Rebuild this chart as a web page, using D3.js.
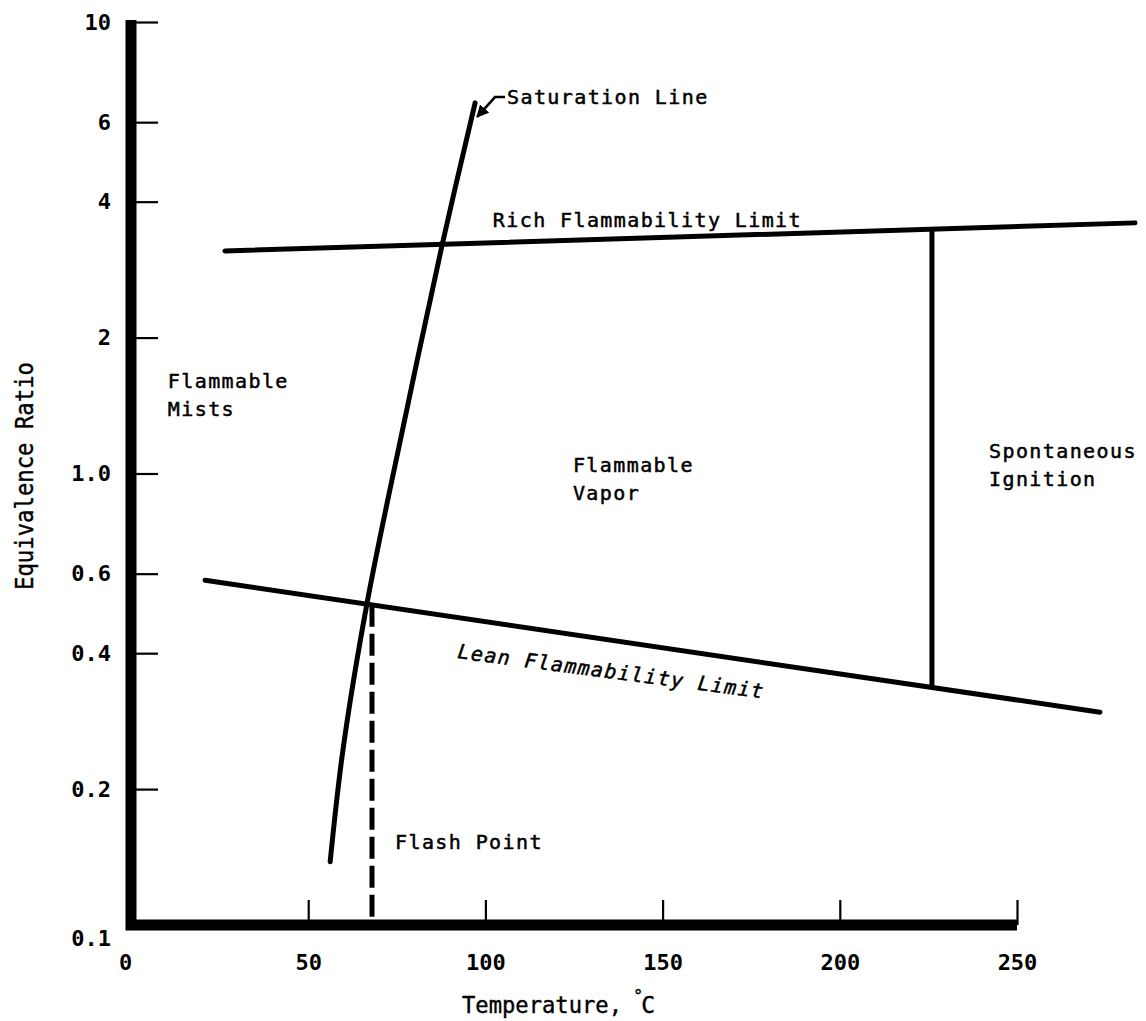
<!DOCTYPE html>
<html>
<head>
<meta charset="utf-8">
<script src="https://cdn.jsdelivr.net/npm/d3@7"></script>
<style>
  body { margin: 0; background: #fff; }
  svg text { font-family: "DejaVu Sans Mono", "Liberation Mono", monospace; fill: #000; }
  .tick text { font-size: 22px; font-weight: bold; }
  .note { font-size: 20px; letter-spacing: 1.4px; stroke: #000; stroke-width: 0.5px; }
  .title { stroke: #000; stroke-width: 0.4px; }
</style>
</head>
<body>
<div id="chart"></div>
<script>
// axis ticks
var xTicks = [0, 50, 100, 150, 200, 250];
var yTicks = [0.1, 0.2, 0.4, 0.6, 1.0, 2, 4, 6, 10];
var yTickLabels = ["0.1", "0.2", "0.4", "0.6", "1.0", "2", "4", "6", "10"];

// curves: [temperature C, equivalence ratio]
var richLimit = [[26.5, 3.11], [283.3, 3.59]];
var leanLimit = [[20.9, 0.58], [273.4, 0.296]];
var saturationLine = [[56.2, 0.138], [59.8, 0.244], [66.6, 0.516], [77.0, 1.29], [87.8, 3.21], [97.1, 6.62]];
var flashPoint = [[68, 0.512], [68, 0.1]];
var spontaneousIgnition = [[226, 3.48], [226, 0.338]];

// region / curve labels
var labelText = [["Flammable", "Mists"], ["Flammable", "Vapor"], ["Spontaneous", "Ignition"], ["Flash Point"], ["Rich Flammability Limit"], ["Saturation Line"]];
var labelTemp = [10.4, 124.7, 242.1, 74.5, 102.1, 106.1];
var labelPhi = [1.55, 1.01, 1.08, 0.147, 3.52, 6.58];

var width = 1146;
var height = 1021;

var svg = d3.select("#chart")
  .append("svg")
  .attr("width", width)
  .attr("height", height);

var x = d3.scaleLinear().domain([0, 250]).range([131, 1017]);
var y = d3.scaleLog().domain([0.1, 10]).range([925, 22]);

var line = d3.line()
  .x(function(d) { return x(d[0]); })
  .y(function(d) { return y(d[1]); });

// ticks + labels
var xAxis = svg.append("g")
  .attr("transform", "translate(0," + y(0.1) + ")")
  .call(d3.axisBottom(x).tickValues(xTicks).tickSize(-25).tickSizeOuter(0).tickPadding(29));

var yAxis = svg.append("g")
  .attr("transform", "translate(" + x(0) + ",0)")
  .call(d3.axisLeft(y).tickValues(yTicks).tickSize(-27).tickSizeOuter(0).tickPadding(20)
    .tickFormat(function(d, i) { return yTickLabels[i]; }));

svg.selectAll(".domain").remove();
svg.selectAll(".tick line").attr("stroke", "#000").attr("stroke-width", 2.2);
xAxis.selectAll(".tick text").filter(function(d) { return d == 0; }).attr("dx", -6);
yAxis.selectAll(".tick text").filter(function(d) { return d == 0.1; }).attr("dy", "0.95em");

// heavy L-shaped frame
svg.append("path")
  .attr("d", "M" + x(0) + "," + (y(10) - 2) + "V" + y(0.1) + "H" + x(250))
  .attr("fill", "none")
  .attr("stroke", "#000")
  .attr("stroke-width", 11)
  .attr("stroke-linejoin", "miter");

// curves
svg.append("path").datum(richLimit)
  .attr("d", line).attr("fill", "none").attr("stroke", "#000").attr("stroke-width", 5).attr("stroke-linecap", "round");

svg.append("path").datum(leanLimit)
  .attr("d", line).attr("fill", "none").attr("stroke", "#000").attr("stroke-width", 5).attr("stroke-linecap", "round");

svg.append("path").datum(spontaneousIgnition)
  .attr("d", line).attr("fill", "none").attr("stroke", "#000").attr("stroke-width", 5);

svg.append("path").datum(flashPoint)
  .attr("d", line).attr("fill", "none").attr("stroke", "#000").attr("stroke-width", 5)
  .attr("stroke-dasharray", "22,7");

svg.append("path").datum(saturationLine)
  .attr("d", line.curve(d3.curveCatmullRom)).attr("fill", "none").attr("stroke", "#000").attr("stroke-width", 5)
  .attr("stroke-linecap", "round");
line.curve(d3.curveLinear);

// arrow marker for saturation label
svg.append("defs").append("marker")
  .attr("id", "arrow")
  .attr("viewBox", "0 0 10 10")
  .attr("refX", 9).attr("refY", 5)
  .attr("markerWidth", 5).attr("markerHeight", 5)
  .attr("orient", "auto")
  .append("path")
  .attr("d", "M0,0L10,5L0,10Z")
  .attr("fill", "#000");

var satTop = saturationLine[saturationLine.length - 1];
var lx = x(labelTemp[5]), ly = y(labelPhi[5]);
svg.append("path")
  .attr("d", "M" + (lx - 2) + "," + (ly - 7) + "H" + (lx - 12) + "L" + (x(satTop[0]) + 2) + "," + (y(satTop[1]) + 14))
  .attr("fill", "none")
  .attr("stroke", "#000")
  .attr("stroke-width", 2.5)
  .attr("marker-end", "url(#arrow)");

// text labels
labelText.forEach(function(lines, i) {
  var t = svg.append("text")
    .attr("class", "note")
    .attr("x", x(labelTemp[i]))
    .attr("y", y(labelPhi[i]));
  lines.forEach(function(s, j) {
    t.append("tspan")
      .attr("x", x(labelTemp[i]))
      .attr("dy", j == 0 ? 0 : 28)
      .text(s);
  });
});

// lean limit label follows the sloping line
var leanX = x(92.0), leanY = y(0.39);
svg.append("text")
  .attr("class", "note")
  .attr("x", leanX)
  .attr("y", leanY)
  .attr("font-style", "italic")
  .attr("transform", "rotate(7.5," + leanX + "," + leanY + ")")
  .text("Lean Flammability Limit");

// axis titles
svg.append("text")
  .attr("class", "title")
  .attr("x", 462)
  .attr("y", 1013)
  .attr("font-size", 23)
  .attr("textLength", 160)
  .attr("lengthAdjust", "spacingAndGlyphs")
  .text("Temperature,");

var unit = svg.append("text")
  .attr("class", "title")
  .attr("x", 633)
  .attr("y", 1013);
unit.append("tspan").attr("font-size", 17).attr("dy", -11).text("°");
unit.append("tspan").attr("font-size", 23).attr("dy", 11).attr("dx", -2).text("C");

svg.append("text")
  .attr("class", "title")
  .attr("transform", "translate(33,476) rotate(-90)")
  .attr("text-anchor", "middle")
  .attr("font-size", 25)
  .attr("textLength", 228)
  .attr("lengthAdjust", "spacingAndGlyphs")
  .text("Equivalence Ratio");
</script>
</body>
</html>
